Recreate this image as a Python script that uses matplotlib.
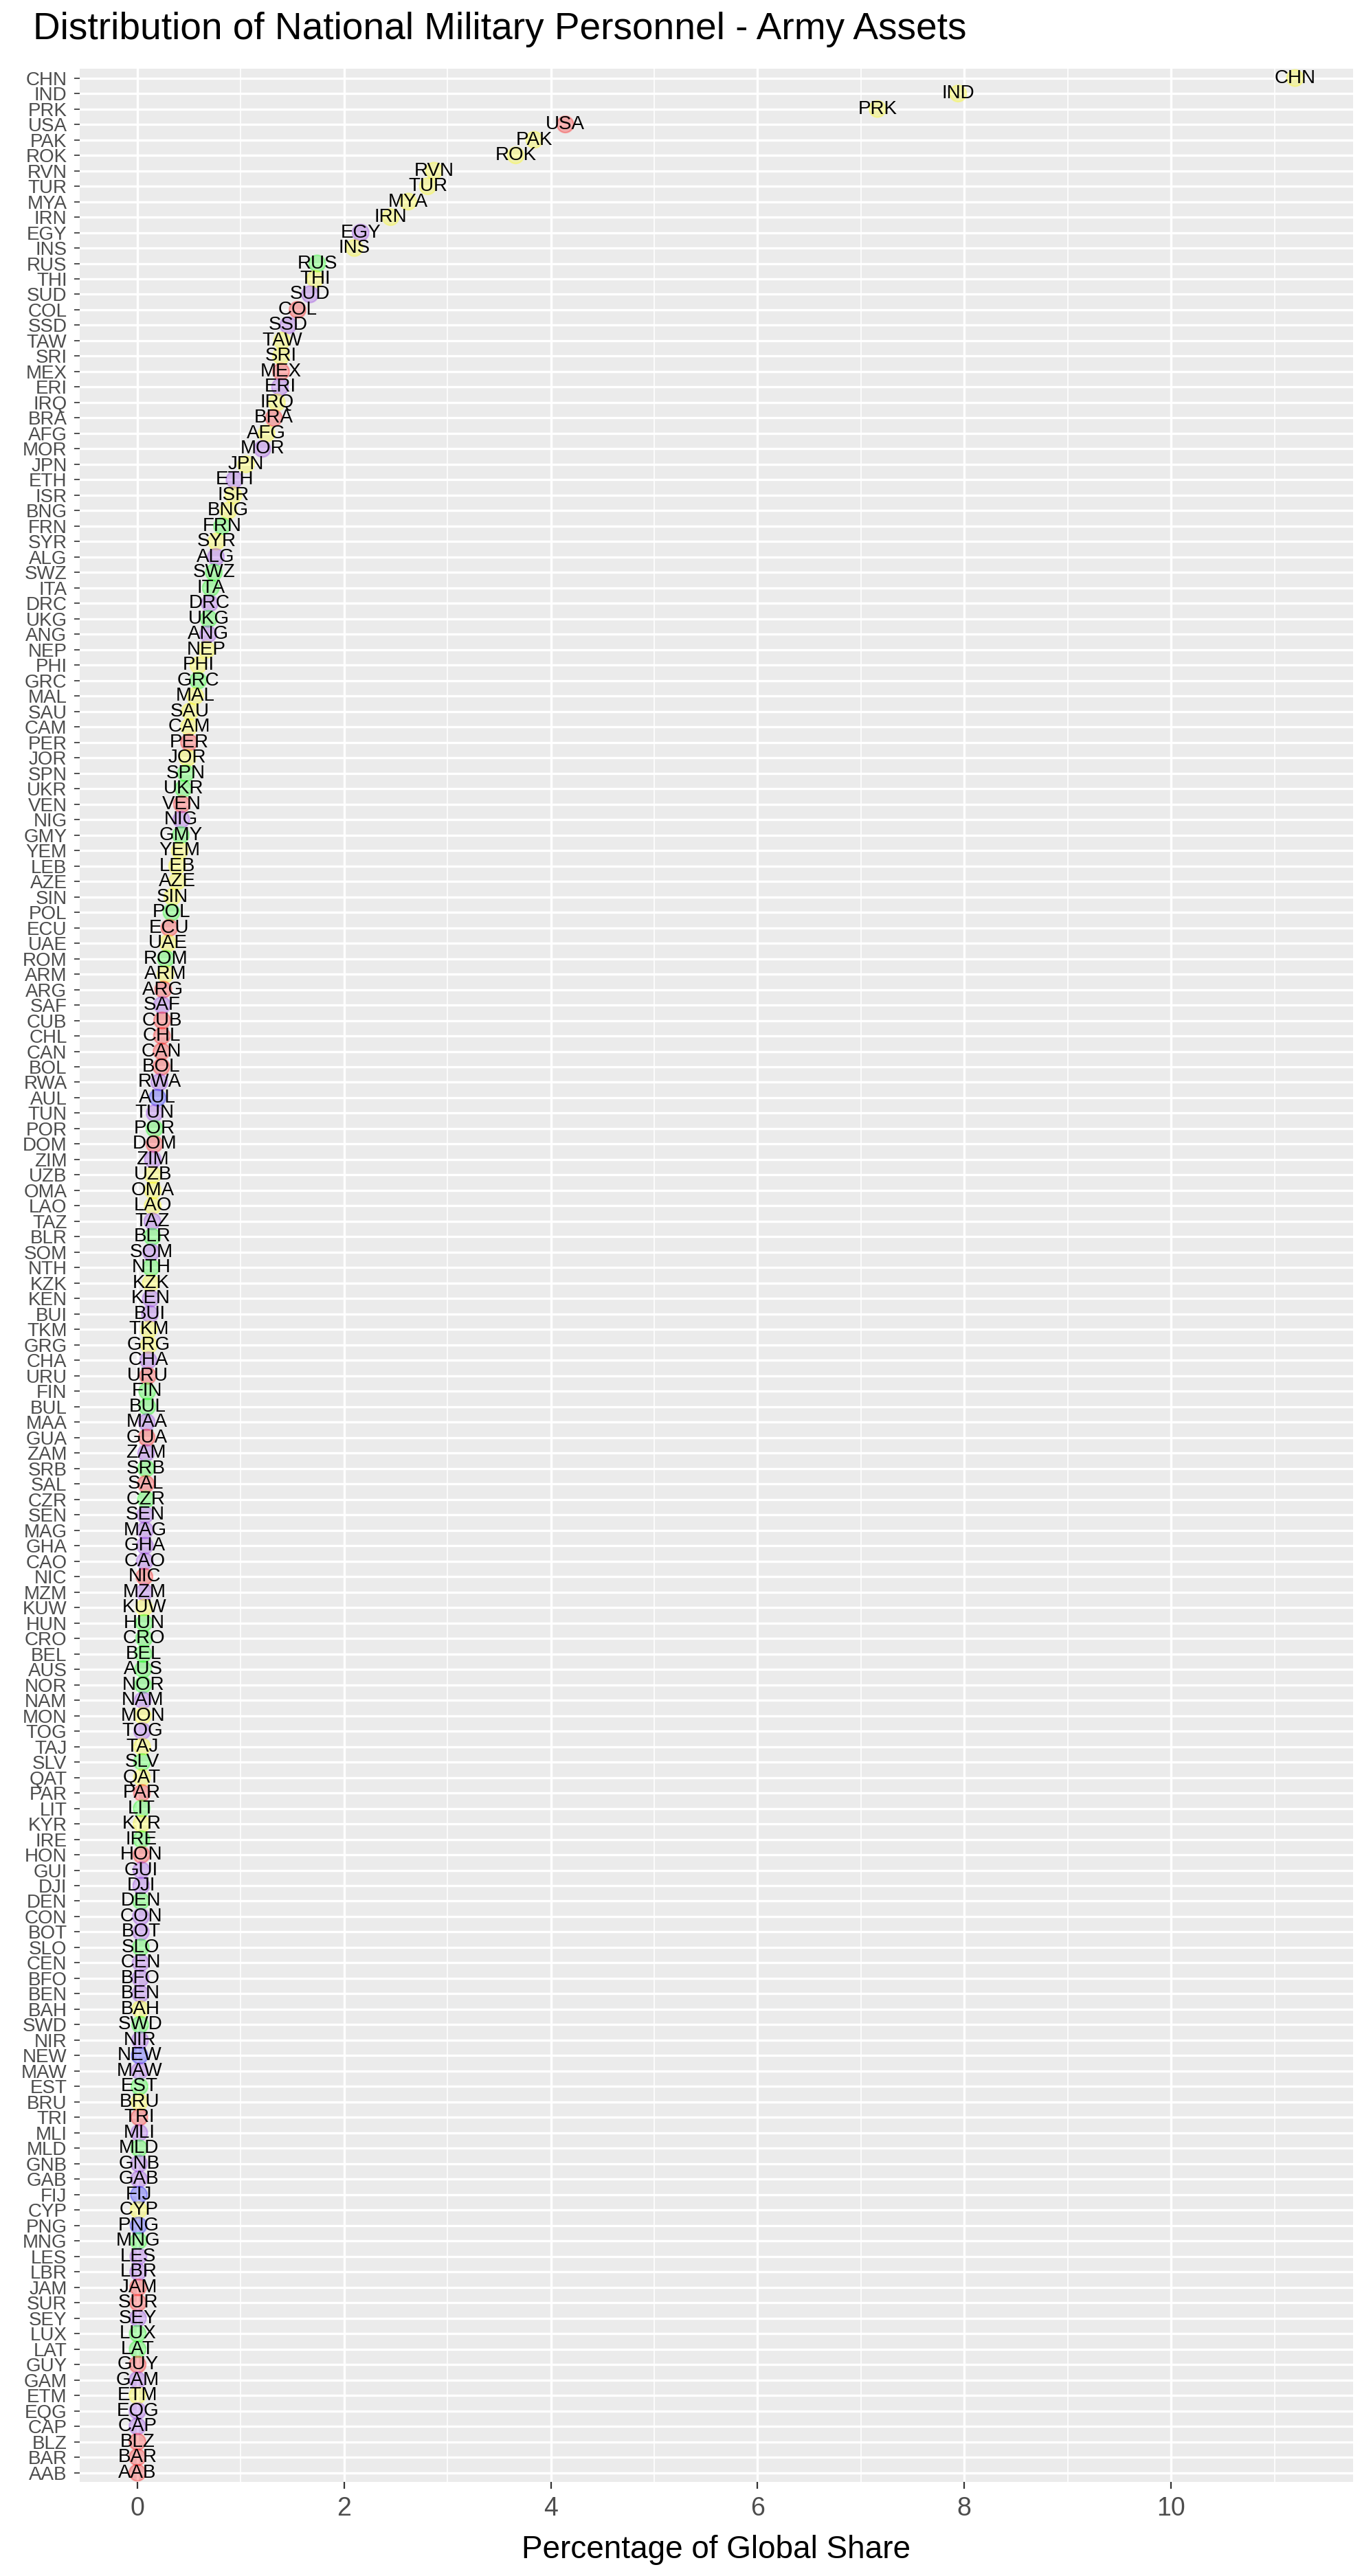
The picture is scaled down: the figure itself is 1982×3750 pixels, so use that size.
import numpy as np
import matplotlib
matplotlib.use("Agg")
import matplotlib.pyplot as plt

# --- 0. DATA ---
countries = [
    "CHN", "IND", "PRK", "USA", "PAK", "ROK", "RVN", "TUR", "MYA", "IRN",
    "EGY", "INS", "RUS", "THI", "SUD", "COL", "SSD", "TAW", "SRI", "MEX",
    "ERI", "IRQ", "BRA", "AFG", "MOR", "JPN", "ETH", "ISR", "BNG", "FRN",
    "SYR", "ALG", "SWZ", "ITA", "DRC", "UKG", "ANG", "NEP", "PHI", "GRC",
    "MAL", "SAU", "CAM", "PER", "JOR", "SPN", "UKR", "VEN", "NIG", "GMY",
    "YEM", "LEB", "AZE", "SIN", "POL", "ECU", "UAE", "ROM", "ARM", "ARG",
    "SAF", "CUB", "CHL", "CAN", "BOL", "RWA", "AUL", "TUN", "POR", "DOM",
    "ZIM", "UZB", "OMA", "LAO", "TAZ", "BLR", "SOM", "NTH", "KZK", "KEN",
    "BUI", "TKM", "GRG", "CHA", "URU", "FIN", "BUL", "MAA", "GUA", "ZAM",
    "SRB", "SAL", "CZR", "SEN", "MAG", "GHA", "CAO", "NIC", "MZM", "KUW",
    "HUN", "CRO", "BEL", "AUS", "NOR", "NAM", "MON", "TOG", "TAJ", "SLV",
    "QAT", "PAR", "LIT", "KYR", "IRE", "HON", "GUI", "DJI", "DEN", "CON",
    "BOT", "SLO", "CEN", "BFO", "BEN", "BAH", "SWD", "NIR", "NEW", "MAW",
    "EST", "BRU", "TRI", "MLI", "MLD", "GNB", "GAB", "FIJ", "CYP", "PNG",
    "MNG", "LES", "LBR", "JAM", "SUR", "SEY", "LUX", "LAT", "GUY", "GAM",
    "ETM", "EQG", "CAP", "BLZ", "BAR", "AAB",
]

share = [
    11.20, 7.94, 7.16, 4.14, 3.84, 3.66, 2.87, 2.81, 2.62, 2.45,
    2.16, 2.10, 1.74, 1.72, 1.67, 1.55, 1.46, 1.40, 1.39, 1.39,
    1.38, 1.35, 1.32, 1.25, 1.21, 1.05, 0.94, 0.93, 0.88, 0.82,
    0.765, 0.76, 0.74, 0.71, 0.70, 0.69, 0.685, 0.67, 0.59, 0.588,
    0.56, 0.51, 0.50, 0.50, 0.485, 0.47, 0.445, 0.43, 0.425, 0.42,
    0.41, 0.385, 0.385, 0.34, 0.33, 0.31, 0.295, 0.275, 0.273, 0.25,
    0.24, 0.24, 0.238, 0.235, 0.233, 0.213, 0.195, 0.167, 0.165, 0.165,
    0.15, 0.15, 0.15, 0.149, 0.145, 0.144, 0.133, 0.133, 0.13, 0.13,
    0.122, 0.112, 0.112, 0.107, 0.102, 0.096, 0.096, 0.09, 0.09, 0.085,
    0.084, 0.083, 0.082, 0.075, 0.074, 0.073, 0.072, 0.068, 0.067, 0.066,
    0.066, 0.065, 0.058, 0.056, 0.055, 0.054, 0.053, 0.047, 0.046, 0.046,
    0.045, 0.044, 0.042, 0.041, 0.040, 0.040, 0.039, 0.038, 0.035, 0.035,
    0.034, 0.033, 0.032, 0.030, 0.030, 0.029, 0.027, 0.026, 0.022, 0.021,
    0.021, 0.020, 0.019, 0.018, 0.017, 0.016, 0.016, 0.015, 0.013, 0.012,
    0.011, 0.010, 0.009, 0.008, 0.007, 0.006, 0.004, 0.003, 0.003, 0.002,
    0.002, 0.002, 0.001, 0.001, 0.001, 0.0005,
]

# A = Asia, E = Europe, F = Africa, M = Americas, O = Oceania
regions = [
    "A", "A", "A", "M", "A", "A", "A", "A", "A", "A",
    "F", "A", "E", "A", "F", "M", "F", "A", "A", "M",
    "F", "A", "M", "A", "F", "A", "F", "A", "A", "E",
    "A", "F", "E", "E", "F", "E", "F", "A", "A", "E",
    "A", "A", "A", "M", "A", "E", "E", "M", "F", "E",
    "A", "A", "A", "A", "E", "M", "A", "E", "A", "M",
    "F", "M", "M", "M", "M", "F", "O", "F", "E", "M",
    "F", "A", "A", "A", "F", "E", "F", "E", "A", "F",
    "F", "A", "A", "F", "M", "E", "E", "F", "M", "F",
    "E", "M", "E", "F", "F", "F", "F", "M", "F", "A",
    "E", "E", "E", "E", "E", "F", "A", "F", "A", "E",
    "A", "M", "E", "A", "E", "M", "F", "F", "E", "F",
    "F", "E", "F", "F", "F", "A", "E", "F", "O", "F",
    "E", "A", "M", "F", "E", "F", "F", "O", "A", "O",
    "E", "F", "F", "M", "M", "F", "E", "E", "M", "F",
    "A", "F", "F", "M", "M", "M",
]

region_colors = {"A": "#FFFF00", "E": "#00FF00", "F": "#8A2BE2", "M": "#FF0000", "O": "#0000FF"}

# --- 1. FIGURE ---
plt.rcParams['font.family'] = ['Liberation Sans', 'DejaVu Sans']

fig = plt.figure(figsize=(9.915, 18.75), dpi=200)
ax = fig.add_axes([0.0583, 0.0365, 0.9346, 0.9368])
ax.set_facecolor("#EBEBEB")

n = len(countries)
y = np.arange(n)[::-1]
x = np.array(share)
cols = [region_colors[r] for r in regions]

# grid lines like ggplot
for v in [1, 3, 5, 7, 9, 11]:
    ax.axvline(v, color="white", lw=0.6, zorder=0)
ax.grid(True, which="major", color="white", lw=1.2, zorder=0)
ax.set_axisbelow(True)

ax.scatter(x, y, s=75, c=cols, alpha=0.28, edgecolors=cols, linewidths=0.8, zorder=2)
for xi, yi, lab in zip(x, y, countries):
    ax.text(xi, yi, lab, ha="center", va="center", fontsize=10, color="black", zorder=3)

ax.set_xlim(-0.56, 11.76)
ax.set_ylim(-0.6, n - 1 + 0.6)
ax.set_xticks([0, 2, 4, 6, 8, 10])
ax.set_yticks(y)
ax.set_yticklabels(countries)
ax.tick_params(axis="y", labelsize=10, labelcolor="#4D4D4D", color="#333333", length=3, width=0.6)
ax.tick_params(axis="x", labelsize=13.5, labelcolor="#4D4D4D", color="#333333", length=3.6, width=0.8, pad=4)
for s in ax.spines.values():
    s.set_visible(False)

ax.set_xlabel("Percentage of Global Share", fontsize=16.5, labelpad=7)
fig.text(0.0242, 0.9885, "Distribution of National Military Personnel - Army Assets",
         fontsize=19.8, ha="left", va="center")

fig.savefig("out.png", dpi=200)
